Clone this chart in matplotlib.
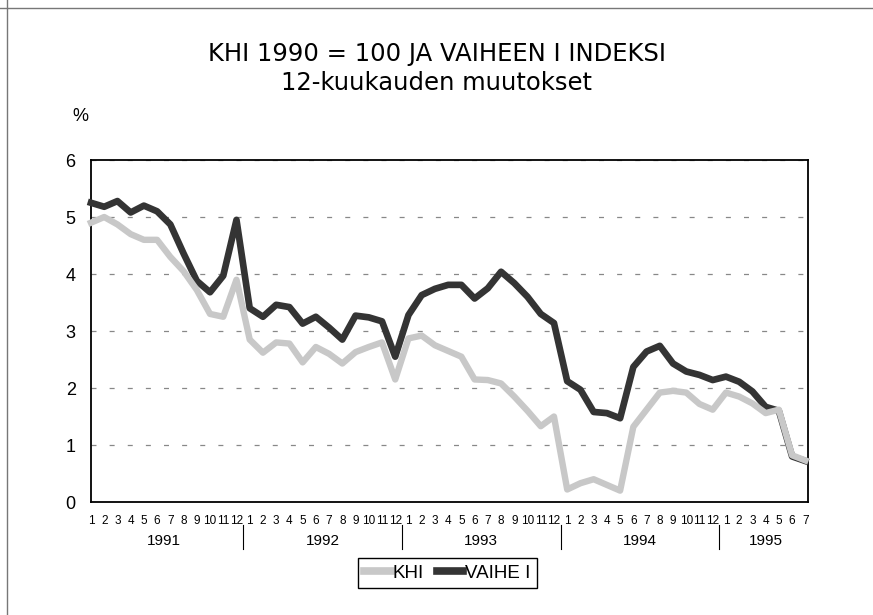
import matplotlib.pyplot as plt
from matplotlib.lines import Line2D
import matplotlib.transforms as mtransforms

# data: 12-month change, %, monthly 1991/1 .. 1995/7
years = ['1991', '1992', '1993', '1994', '1995']
months_per_year = [12, 12, 12, 12, 7]
khi = [4.9, 5.0, 4.87, 4.7, 4.6, 4.6, 4.3, 4.05, 3.72, 3.3, 3.25, 3.9,
       2.85, 2.62, 2.8, 2.78, 2.45, 2.72, 2.6, 2.43, 2.63, 2.72, 2.8, 2.15,
       2.87, 2.92, 2.75, 2.65, 2.55, 2.15, 2.14, 2.08, 1.85, 1.6, 1.33, 1.5,
       0.22, 0.33, 0.4, 0.3, 0.2, 1.32, 1.62, 1.92, 1.95, 1.92, 1.72, 1.62,
       1.92, 1.85, 1.73, 1.56, 1.62, 0.82, 0.73]
vaihe = [5.25, 5.18, 5.28, 5.08, 5.2, 5.1, 4.87, 4.36, 3.88, 3.68, 3.97, 4.95,
         3.4, 3.25, 3.46, 3.42, 3.13, 3.25, 3.06, 2.85, 3.27, 3.24, 3.17, 2.55,
         3.28, 3.63, 3.74, 3.81, 3.81, 3.57, 3.75, 4.04, 3.84, 3.6, 3.3, 3.14,
         2.12, 1.97, 1.58, 1.56, 1.47, 2.37, 2.64, 2.74, 2.43, 2.29, 2.23, 2.14,
         2.2, 2.11, 1.94, 1.67, 1.6, 0.8, 0.72]

month_labels = []
for n in months_per_year:
    month_labels += [str(m) for m in range(1, n + 1)]

dark = '#343434'
light = '#c8c8c8'
plt.rcParams['font.family'] = ['Liberation Sans', 'DejaVu Sans']

fig = plt.figure(figsize=(8.73, 6.15), dpi=100)
ax = fig.add_axes([0.1042, 0.1837, 0.8213, 0.5561])

x = list(range(len(khi)))
ax.plot(x, vaihe, color=dark, lw=4.8, zorder=3, clip_on=False,
        solid_joinstyle='round')
ax.plot(x, khi, color=light, lw=4.6, zorder=4, clip_on=False,
        solid_joinstyle='round')

ax.set_xlim(0, 54.2)
ax.set_ylim(0, 6)
ax.set_yticks(range(7))
ax.tick_params(axis='y', length=0, pad=11, labelsize=13)
ax.set_xticks(x)
# small enough that "10 11 12" just fit side by side
ax.set_xticklabels(month_labels, fontsize=8.5)
ax.tick_params(axis='x', length=0, pad=9)
ax.yaxis.grid(True, linestyle=(0, (4, 10.5)), color='#888888', lw=0.9)
for s in ax.spines.values():
    s.set_linewidth(1.3)

# year labels and separators under the month ticks
trans = mtransforms.blended_transform_factory(ax.transData, ax.transAxes)
start = 0
for i, (yr, n) in enumerate(zip(years, months_per_year)):
    ax.text(start + (n - 1) / 2, -0.115, yr, transform=trans,
            ha='center', va='center', fontsize=11)
    if i > 0:
        ax.plot([start - 0.5, start - 0.5], [-0.067, -0.137], transform=trans,
                color='black', lw=0.8, clip_on=False)
    start += n

fig.text(0.5, 1 - 54 / 615, 'KHI 1990 = 100 JA VAIHEEN I INDEKSI',
         ha='center', va='center', fontsize=17.5, family='DejaVu Sans')
fig.text(0.5, 1 - 83 / 615, '12-kuukauden muutokset',
         ha='center', va='center', fontsize=17.5, family='DejaVu Sans')
fig.text(80 / 873, 1 - 117 / 615, '%', ha='center', va='center', fontsize=13)

handles = [Line2D([0], [0], color=light, lw=5.5),
           Line2D([0], [0], color=dark, lw=5.5)]
leg = fig.legend(handles=handles, labels=['KHI', 'VAIHE I'], loc='center',
                 bbox_to_anchor=(447.5 / 873, 1 - 573 / 615), ncol=2,
                 fancybox=False, edgecolor='black', framealpha=1,
                 fontsize=13.5, handlelength=1.4, handletextpad=0.1,
                 columnspacing=0.7, borderpad=0.35)
leg.get_frame().set_linewidth(1)

# page frame of the scanned original
fig.add_artist(Line2D([7 / 873, 7 / 873], [0, 1], color='#777777', lw=1))
fig.add_artist(Line2D([0, 1], [1 - 8 / 615, 1 - 8 / 615], color='#777777', lw=1))

fig.savefig('out.png', dpi=100)
